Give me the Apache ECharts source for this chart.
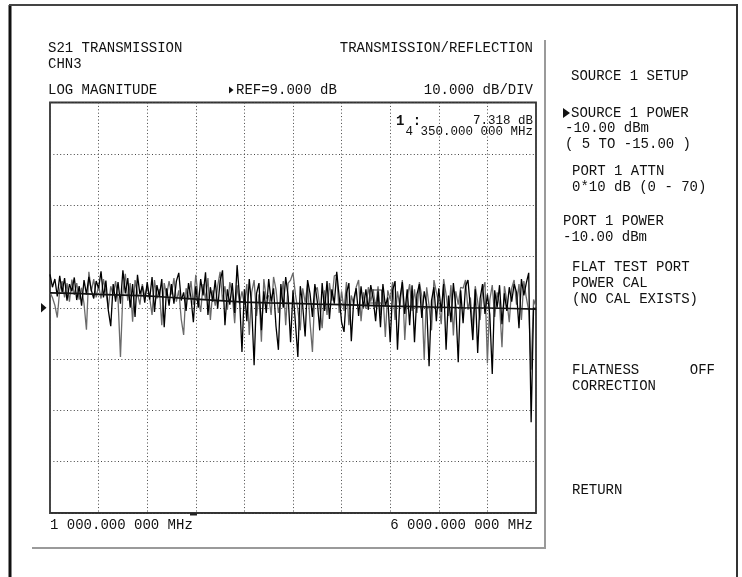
<!DOCTYPE html>
<html>
<head>
<meta charset="utf-8">
<script src="https://cdn.jsdelivr.net/npm/echarts@6/dist/echarts.min.js"></script>
<style>
html,body{margin:0;padding:0;background:#fff;}
#c{width:742px;height:577px;}
</style>
</head>
<body>
<div id="c"></div>
<script>
// Sweep definition (MHz)
var startMHz = 1000;
var stopMHz = 6000;
var xTicks = [1000,1500,2000,2500,3000,3500,4000,4500,5000,5500,6000];
var yDivs = [0,1,2,3,4,5,6,7,8];
var refLevel = 9;      // dB, centre line
var dbPerDiv = 10;

// Trace values in dB (black trace)
var traceBlack = [
15.5,13.0,14.6,11.2,15.2,12.0,14.8,10.4,13.6,12.2,
14.9,10.5,13.2,9.4,14.4,11.6,15.0,12.4,10.8,14.2,
12.8,16.1,11.0,14.3,8.5,5.4,13.6,10.2,14.0,9.8,
16.3,11.8,14.8,9.0,13.6,7.2,15.4,11.6,13.2,10.0,
14.0,10.6,15.0,8.2,13.4,11.2,14.6,5.2,12.8,9.4,
13.6,9.8,14.2,15.8,10.4,12.0,8.4,13.8,11.0,6.2,
13.2,9.0,14.6,11.4,15.9,7.6,13.0,10.2,14.4,8.8,
14.2,16.3,5.6,12.6,9.6,13.8,8.0,17.3,11.0,0.4,
12.6,6.4,14.6,9.2,-2.2,11.8,13.8,4.6,12.2,8.0,
14.6,10.2,12.8,5.4,0.8,13.6,9.0,15.0,11.2,2.3,
12.4,6.0,-0.6,13.2,9.4,3.4,14.4,11.8,7.2,13.6,
10.2,4.6,13.8,8.4,14.2,6.8,12.6,9.8,16.0,11.2,
6.2,4.3,11.8,13.8,2.5,10.6,12.8,7.4,13.2,9.0,
12.6,8.6,13.4,10.8,6.4,12.2,5.2,13.6,9.4,11.0,
2.3,12.4,14.2,0.8,10.8,14.0,7.8,12.6,5.6,13.4,
2.3,11.6,13.6,7.0,12.2,9.6,-2.4,10.4,13.0,6.4,
12.8,8.2,13.6,0.8,11.4,6.2,13.8,9.2,-1.6,12.4,
6.0,13.2,14.4,9.0,2.7,12.6,0.2,10.8,13.6,7.8,
11.6,7.6,-3.9,12.4,9.0,13.4,5.8,11.8,8.4,13.0,
10.2,13.6,12.0,5.0,14.6,11.4,13.8,15.8,-13.3,9.0,
8.6
];

// Trace values in dB (grey trace)
var traceGrey = [
12.0,11.0,9.5,7.1,12.5,14.2,11.0,13.8,10.2,14.5,
11.5,13.8,10.6,12.9,9.8,4.7,16.0,12.2,14.6,11.0,
13.4,10.8,14.6,12.0,8.8,13.2,11.4,14.2,10.6,-0.6,
12.0,15.6,10.4,13.8,6.3,14.4,11.8,9.6,13.6,11.2,
13.2,11.0,7.6,14.4,10.8,12.6,5.6,13.8,11.4,14.2,
11.6,14.8,10.2,12.4,6.8,3.7,12.8,10.6,14.2,9.6,
15.4,11.0,8.2,13.6,10.6,14.8,6.6,12.4,9.4,13.2,
16.0,10.4,13.2,8.6,14.0,11.6,6.0,13.4,9.8,12.2,
9.6,13.6,3.7,12.0,14.4,7.4,11.6,2.4,14.6,10.8,
11.4,7.6,15.0,12.6,8.0,10.4,14.2,5.6,13.8,14.4,
15.8,11.6,8.6,4.6,12.8,10.0,13.6,6.2,0.4,12.2,
13.0,9.2,5.0,12.4,7.6,13.8,10.4,15.2,15.4,8.0,
12.2,8.4,14.0,5.6,11.4,9.6,13.0,14.4,6.4,12.0,
8.8,13.0,10.2,12.6,9.0,13.2,7.6,11.8,3.3,12.4,
10.6,14.0,6.6,12.2,9.2,14.4,2.7,11.0,13.6,8.4,
12.6,8.0,14.0,11.2,-1.2,13.0,9.4,4.6,14.4,12.0,
10.0,5.8,14.6,11.6,7.4,13.4,3.6,12.2,9.6,13.0,
12.8,14.4,8.6,11.0,4.8,13.2,10.2,6.6,12.4,14.0,
-1.8,10.6,13.4,7.2,12.0,9.8,1.3,13.2,10.4,6.2,
12.8,14.4,9.6,13.6,6.6,14.2,11.0,8.4,-3.1,10.6,
9.2
];

// Smoothed (averaged) trace, dB, every 250 MHz
var traceSmooth = [11.9,11.8,11.6,11.45,11.3,11.0,10.7,10.4,10.1,9.95,9.85,9.7,9.6,9.45,9.3,9.2,9.1,9.0,8.95,8.85,8.75];

// Marker
var markerMHz = 4350;
var markerBoxDb = 11.2;
var markerText = ['1 :', '7.318 dB', '4 350.000 000 MHz'];

function pairs(arr){
  var n = arr.length, out = [];
  for (var i = 0; i < n; i++) out.push([startMHz + i*(stopMHz-startMHz)/(n-1), arr[i]]);
  return out;
}

var FONT = '"Liberation Mono", "DejaVu Sans Mono", monospace';
var TC = '#111';
function txt(x, y, s, align, extra){
  var st = {text: s, x: x, y: y, fill: TC, font: '14px ' + FONT, textAlign: align || 'left', textVerticalAlign: 'middle'};
  if (extra) for (var k in extra) st[k] = extra[k];
  return {type: 'text', silent: true, z: 100, style: st};
}
function line(x1,y1,x2,y2,color,w){
  return {type:'line', silent:true, z:90, shape:{x1:x1,y1:y1,x2:x2,y2:y2}, style:{stroke:color,lineWidth:w}};
}

var chart = echarts.init(document.getElementById('c'), null, {renderer:'canvas'});
var dotted = {show:true, lineStyle:{color:'#444', width:1, type:[1,2.4]}};
var yMin = refLevel - 4*dbPerDiv, yMax = refLevel + 4*dbPerDiv;

chart.setOption({
  animation:false,
  backgroundColor:'#fff',
  grid:{left:50, top:102.5, width:486, height:410.5, show:true, borderColor:'#333', borderWidth:1.8, backgroundColor:'transparent'},
  xAxis:{type:'value', min:xTicks[0], max:xTicks[xTicks.length-1], interval:xTicks[1]-xTicks[0],
    axisLabel:{show:false}, axisTick:{show:false}, axisLine:{show:false}, splitLine:dotted},
  yAxis:[
    {type:'value', min:yMin, max:yMax, show:false, splitLine:{show:false}},
    {type:'value', min:yDivs[0], max:yDivs[yDivs.length-1], interval:1, position:'left',
      axisLabel:{show:false}, axisTick:{show:false}, axisLine:{show:false}, splitLine:dotted}
  ],
  series:[
    {type:'line', yAxisIndex:0, data:pairs(traceGrey), symbol:'none', lineStyle:{color:'#6a6a6a', width:1.3}, z:2},
    {type:'line', yAxisIndex:0, data:pairs(traceBlack), symbol:'none', lineStyle:{color:'#000', width:1.3}, z:3},
    {type:'line', yAxisIndex:0, data:pairs(traceSmooth), symbol:'none', lineStyle:{color:'#111', width:1.7}, z:4,
      markPoint:{symbol:'rect', symbolSize:[12,13], silent:true, label:{show:false},
        itemStyle:{color:'rgba(0,0,0,0)', borderColor:'#333', borderWidth:1},
        data:[{coord:[markerMHz, markerBoxDb]}]}}
  ],
  graphic:[
    // outer frame
    line(10,5,10,577,'#111',3),
    line(9,5,737,5,'#444',2),
    line(737,4,737,577,'#333',2),
    // inner grey panel lines
    line(545,40,545,549,'#9a9a9a',2),
    line(32,548,546,548,'#9a9a9a',2),
    // reference arrow on left
    {type:'polygon', silent:true, z:95, shape:{points:[[41,303],[46.5,307.7],[41,312.4]]}, style:{fill:'#111'}},
    // small bottom dash
    {type:'rect', silent:true, z:95, shape:{x:190,y:513,width:7,height:2.5}, style:{fill:'#222'}},
    // header texts
    txt(48,48,'S21 TRANSMISSION'),
    txt(48,64,'CHN3'),
    txt(48,90,'LOG MAGNITUDE'),
    txt(533,48,'TRANSMISSION/REFLECTION','right'),
    {type:'polygon', silent:true, z:95, shape:{points:[[229,86.5],[233.5,90],[229,93.5]]}, style:{fill:'#111'}},
    txt(236,90,'REF=9.000 dB'),
    txt(533,90,'10.000 dB/DIV','right'),
    // marker readout
    txt(396,121,markerText[0],'left',{font:'bold 14px ' + FONT}),
    txt(533,121,markerText[1],'right',{font:'12.5px ' + FONT}),
    txt(533,132,markerText[2],'right',{font:'12.5px ' + FONT}),
    // bottom frequency labels
    txt(50,525,'1 000.000 000 MHz'),
    txt(533,525,'6 000.000 000 MHz','right'),
    // right menu
    txt(571,76,'SOURCE 1 SETUP'),
    {type:'polygon', silent:true, z:95, shape:{points:[[563,108],[570,113],[563,118]]}, style:{fill:'#111'}},
    txt(571,113,'SOURCE 1 POWER'),
    txt(565,128,'-10.00 dBm'),
    txt(565,144,'( 5 TO -15.00 )'),
    txt(572,171,'PORT 1 ATTN'),
    txt(572,187,'0*10 dB (0 - 70)'),
    txt(563,221,'PORT 1 POWER'),
    txt(563,237,'-10.00 dBm'),
    txt(572,267,'FLAT TEST PORT'),
    txt(572,283,'POWER CAL'),
    txt(572,299,'(NO CAL EXISTS)'),
    txt(572,370,'FLATNESS'),
    txt(715,370,'OFF','right'),
    txt(572,386,'CORRECTION'),
    txt(572,490,'RETURN')
  ]
});
</script>
</body>
</html>
